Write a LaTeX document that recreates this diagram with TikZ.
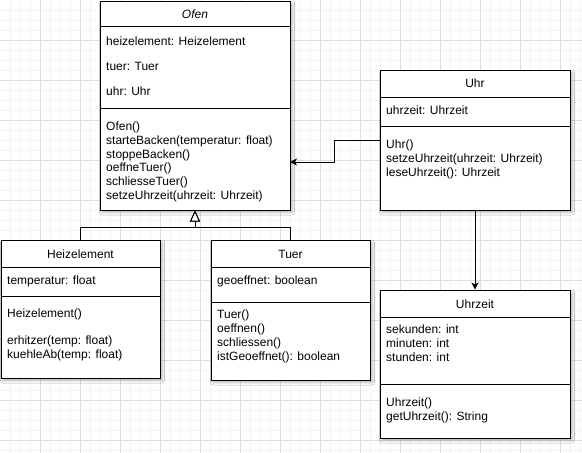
\documentclass[tikz,border=0pt]{standalone}
\usepackage{fontspec}
\setmainfont{Liberation Sans}
\usetikzlibrary{arrows.meta,shadows.blur}
\definecolor{gridminor}{HTML}{F4F4F4}
\definecolor{gridmajor}{HTML}{DEDEDE}
\begin{document}
\begin{tikzpicture}[x=1pt,y=-1pt,
  classbox/.style={draw=black, line width=1pt, fill=white, rectangle, inner sep=0pt,
    blur shadow={shadow xshift=2pt, shadow yshift=-2.5pt, shadow blur radius=2.5pt, shadow opacity=30}},
  divider/.style={draw=black, line width=1pt},
  member/.style={anchor=base west, inner sep=0pt, font=\fontsize{12pt}{14pt}\selectfont},
  ctitle/.style={anchor=base, inner sep=0pt, font=\fontsize{12pt}{14pt}\selectfont},
  assoc/.style={draw=black, line width=1pt, -{Stealth[length=7pt,width=7pt,inset=2pt]}},
  inherit/.style={draw=black, line width=1pt, -{Triangle[open,length=11pt,width=10pt,fill=white]}},
]
\useasboundingbox (0,0) rectangle (582,453);

% background grid
\fill[white] (0,0) rectangle (582,453);
\foreach \gx in {10,20,...,580} \draw[gridminor, line width=1pt] (\gx,0) -- (\gx,453);
\foreach \gy in {10,20,...,450} \draw[gridminor, line width=1pt] (0,\gy) -- (582,\gy);
\foreach \gx in {40,80,...,560} \draw[gridmajor, line width=1pt] (\gx,0) -- (\gx,453);
\foreach \gy in {40,80,...,440} \draw[gridmajor, line width=1pt] (0,\gy) -- (582,\gy);

% ---------- Ofen ----------
\node[classbox, minimum width=190pt, minimum height=209pt] (ofen) at (195,105.5) {};
\draw[divider] (100,26) -- (290,26);
\draw[divider] (100,108) -- (290,108);
\node[ctitle] (ofen-t) at (195,18.5) {\itshape Ofen};
\node[member] (ofen-a1) at (106,45) {heizelement: Heizelement};
\node[member] (ofen-a2) at (106,70.5) {tuer: Tuer};
\node[member] (ofen-a3) at (106,95.5) {uhr: Uhr};
\node[member] (ofen-m1) at (106,130.5) {Ofen()};
\node[member] (ofen-m2) at (106,144.3) {starteBacken(temperatur: float)};
\node[member] (ofen-m3) at (106,158.1) {stoppeBacken()};
\node[member] (ofen-m4) at (106,171.9) {oeffneTuer()};
\node[member] (ofen-m5) at (106,185.7) {schliesseTuer()};
\node[member] (ofen-m6) at (106,199.5) {setzeUhrzeit(uhrzeit: Uhrzeit)};

% ---------- Uhr ----------
\node[classbox, minimum width=190pt, minimum height=140pt] (uhr) at (475,140) {};
\draw[divider] (380,97) -- (570,97);
\draw[divider] (380,126) -- (570,126);
\node[ctitle] (uhr-t) at (475,87.5) {Uhr};
\node[member] (uhr-a1) at (386,114.5) {uhrzeit: Uhrzeit};
\node[member] (uhr-m1) at (386,148.5) {Uhr()};
\node[member] (uhr-m2) at (386,162.5) {setzeUhrzeit(uhrzeit: Uhrzeit)};
\node[member] (uhr-m3) at (386,176.5) {leseUhrzeit(): Uhrzeit};

% ---------- Uhrzeit ----------
\node[classbox, minimum width=190pt, minimum height=148pt] (uhrzeit) at (475,364) {};
\draw[divider] (380,317) -- (570,317);
\draw[divider] (380,384) -- (570,384);
\node[ctitle] (uz-t) at (475,308.5) {Uhrzeit};
\node[member] (uz-a1) at (386,333.5) {sekunden: int};
\node[member] (uz-a2) at (386,347.5) {minuten: int};
\node[member] (uz-a3) at (386,361.5) {stunden: int};
\node[member] (uz-m1) at (386,406.5) {Uhrzeit()};
\node[member] (uz-m2) at (386,420) {getUhrzeit(): String};

% ---------- Heizelement ----------
\node[classbox, minimum width=159pt, minimum height=138pt] (heiz) at (80.5,309) {};
\draw[divider] (1,267) -- (160,267);
\draw[divider] (1,296) -- (160,296);
\node[ctitle] (heiz-t) at (80.5,258.5) {Heizelement};
\node[member] (heiz-a1) at (7,284.5) {temperatur: float};
\node[member] (heiz-m1) at (7,317.5) {Heizelement()};
\node[member] (heiz-m2) at (7,344.5) {erhitzer(temp: float)};
\node[member] (heiz-m3) at (7,358) {kuehleAb(temp: float)};

% ---------- Tuer ----------
\node[classbox, minimum width=159pt, minimum height=140pt] (tuer) at (290.5,310) {};
\draw[divider] (211,267) -- (370,267);
\draw[divider] (211,302) -- (370,302);
\node[ctitle] (tuer-t) at (290.5,258.5) {Tuer};
\node[member] (tuer-a1) at (217,284.5) {geoeffnet: boolean};
\node[member] (tuer-m1) at (217,318) {Tuer()};
\node[member] (tuer-m2) at (217,332.5) {oeffnen()};
\node[member] (tuer-m3) at (217,346.5) {schliessen()};
\node[member] (tuer-m4) at (217,360.5) {istGeoeffnet(): boolean};

% ---------- connectors ----------
\coordinate (ofen-in) at (290,162);
\coordinate (ofen-joint) at (195,227);
\draw[assoc] (uhr.west) -- ++(-45,0) |- (ofen-in);
\draw[assoc] (uhr.south) -- (uhrzeit.north);
\draw[inherit] (heiz.north) |- (ofen-joint) -- (ofen.south);
\draw[inherit] (tuer.north) |- (ofen-joint) -- (ofen.south);
\end{tikzpicture}
\end{document}
